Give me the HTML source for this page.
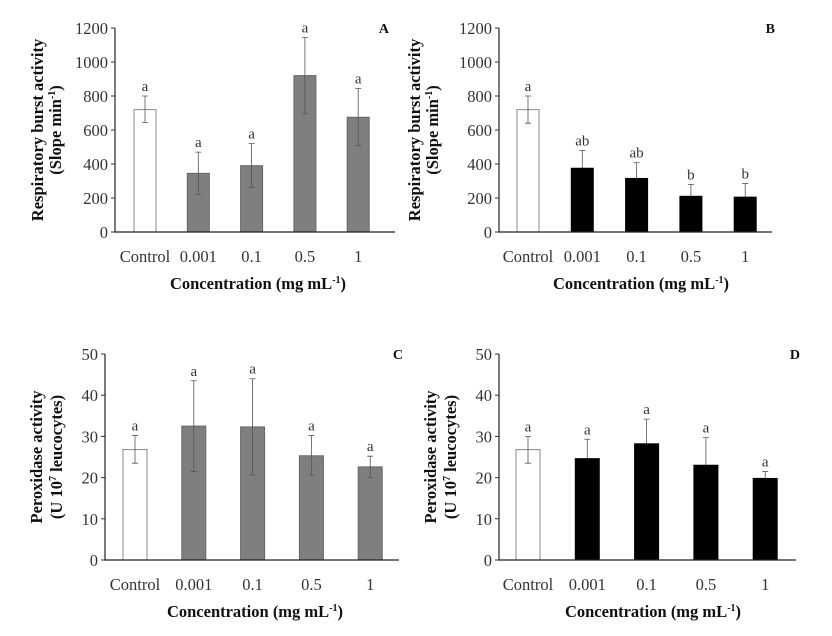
<!DOCTYPE html>
<html><head><meta charset="utf-8"><style>
html,body{margin:0;padding:0;background:#fff;}
svg{display:block;font-family:"Liberation Serif",serif;}
</style></head><body>
<svg id="chart" width="832" height="636" viewBox="0 0 832 636"></svg>
<script>
const categories=["Control","0.001","0.1","0.5","1"];
const aValues=[720,345,390,920,675];
const aLow=[645,220,262,695,510];
const aHigh=[800,470,520,1145,845];
const aLetters=["a","a","a","a","a"];
const bValues=[720,375,315,210,205];
const bLow=[640,300,250,150,150];
const bHigh=[800,480,408,280,285];
const bLetters=["a","ab","ab","b","b"];
const cValues=[26.8,32.5,32.3,25.3,22.6];
const cLow=[23.5,21.5,20.6,20.6,20];
const cHigh=[30.2,43.5,44,30.2,25.2];
const cLetters=["a","a","a","a","a"];
const dValues=[26.8,24.6,28.2,23,19.8];
const dLow=[23.5,20,22.5,17,18];
const dHigh=[30,29.3,34.2,29.7,21.5];
const dLetters=["a","a","a","a","a"];
const rbTicks=[0,200,400,600,800,1000,1200];
const pxTicks=[0,10,20,30,40,50];

const svg=document.getElementById('chart');
const NS="http://www.w3.org/2000/svg";
function mk(tag,attrs,parent){const e=document.createElementNS(NS,tag);for(const k in attrs)e.setAttribute(k,attrs[k]);(parent||svg).appendChild(e);return e;}

function panel(p){
  const g=mk('g',{});
  
  
  const ymax=p.ticks[p.ticks.length-1];
  const Y=v=>p.y0-(v/ymax)*(p.y0-p.yTop);
  const X=i=>p.c0+i*p.step;
  p.ticks.forEach(t=>{
    const l=mk('line',{x1:p.ax-4,x2:p.ax,y1:Y(t),y2:Y(t),stroke:'#333','stroke-width':1},g);
    
    
    const tx=mk('text',{x:p.ax-7,y:Y(t)+6,'text-anchor':'end','font-size':16.5,fill:'#333'},g);
    tx.textContent=t;
    
    
  });
  p.values.forEach((v,i)=>{
    const w=p.bw, x=X(i)-w/2;
    const ctrl=i===0;
    const ebBehind=p.dark && !ctrl;
    const drawEb=()=>{
      const eb=mk('path',{d:`M${X(i)},${Y(p.low[i])}V${Y(p.high[i])}M${X(i)-3},${Y(p.high[i])}H${X(i)+3}M${X(i)-3},${Y(p.low[i])}H${X(i)+3}`,stroke:'#555','stroke-width':0.8,fill:'none'},g);
      
      
    };
    if(ebBehind) drawEb();
    const r=mk('rect',{x:x,y:Y(v),width:w,height:p.y0-Y(v),fill:ctrl?'#fff':p.fill,stroke:ctrl?'#888':p.stroke,'stroke-width':1},g);
    
    
    if(!ebBehind) drawEb();
    const lt=mk('text',{x:X(i),y:Y(p.high[i])-5,'text-anchor':'middle','font-size':15,fill:'#333'},g);
    lt.textContent=p.letters[i];
    
    
    const cl=mk('text',{x:X(i),y:p.y0+30,'text-anchor':'middle','font-size':16.5,fill:'#333'},g);
    cl.textContent=categories[i];
    
    
  });
  const axes=mk('path',{d:`M${p.ax},${p.yTop}V${p.y0}H${p.axEnd}`,stroke:'#222','stroke-width':1.2,fill:'none'},g);
  
  
  const pl=mk('text',{x:p.lx,y:p.yTop+5,'text-anchor':'end','font-size':14,'font-weight':'bold',fill:'#111'},g);
  pl.textContent=p.id;
  
  
  const xt=mk('text',{x:p.xtx,y:p.y0+57,'text-anchor':'middle','font-size':16.5,'font-weight':'bold',fill:'#111'},g);
  xt.innerHTML='Concentration (mg mL<tspan font-size="10" dy="-6">-1</tspan><tspan dy="6">)</tspan>';
  
  
  const cy=(p.y0+p.yTop)/2;
  const yt=mk('text',{transform:`translate(${p.ty1},${cy}) rotate(-90)`,'text-anchor':'middle','font-size':16.5,'font-weight':'bold',fill:'#111'},g);
  yt.innerHTML=p.t1;
  
  
  const yt2=mk('text',{transform:`translate(${p.ty2},${cy}) rotate(-90)`,'text-anchor':'middle','font-size':16.5,'font-weight':'bold',fill:'#111'},g);
  yt2.innerHTML=p.t2;
  
  
}
const rbT1='Respiratory burst activity';
const rbT2='(Slope  min<tspan font-size="10" dy="-6">-1</tspan><tspan dy="6">)</tspan>';
const pxT1='Peroxidase activity';
const pxT2='(U 10<tspan font-size="10" dy="-6">7</tspan><tspan dy="6"> leucocytes)</tspan>';
panel({id:'A',values:aValues,low:aLow,high:aHigh,letters:aLetters,ticks:rbTicks,ax:115,axEnd:395,y0:232,yTop:28,c0:145,step:53.3,bw:22,fill:'#7f7f7f',stroke:'#666',lx:389,xtx:258,ty1:43,ty2:61,t1:rbT1,t2:rbT2,dark:false});
panel({id:'B',values:bValues,low:bLow,high:bHigh,letters:bLetters,ticks:rbTicks,ax:499,axEnd:772,y0:232,yTop:28,c0:528,step:54.3,bw:22,fill:'#000',stroke:'#000',lx:775,xtx:641,ty1:420,ty2:438,t1:rbT1,t2:rbT2,dark:true});
panel({id:'C',values:cValues,low:cLow,high:cHigh,letters:cLetters,ticks:pxTicks,ax:105,axEnd:399,y0:560,yTop:354,c0:135,step:58.8,bw:24,fill:'#7f7f7f',stroke:'#666',lx:403,xtx:255,ty1:42,ty2:62,t1:pxT1,t2:pxT2,dark:false});
panel({id:'D',values:dValues,low:dLow,high:dHigh,letters:dLetters,ticks:pxTicks,ax:499,axEnd:796,y0:560,yTop:354,c0:528,step:59.3,bw:24,fill:'#000',stroke:'#000',lx:800,xtx:653,ty1:436,ty2:456,t1:pxT1,t2:pxT2,dark:true});
</script>
</body></html>
